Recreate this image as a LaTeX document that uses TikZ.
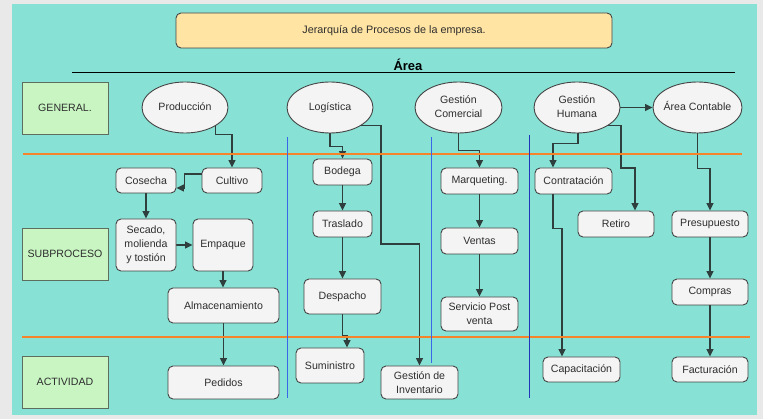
\documentclass[tikz,border=0pt]{standalone}
\usepackage{fontspec}
\setmainfont{Liberation Sans}
\usetikzlibrary{arrows.meta,shapes.geometric}

\definecolor{pagegray}{HTML}{E9E9E9}
\definecolor{canvas}{HTML}{87E2D5}
\definecolor{titlefill}{HTML}{FFE4A3}
\definecolor{lvlfill}{HTML}{C8F5C2}
\definecolor{lvlline}{HTML}{5E6E5E}
\definecolor{boxfill}{HTML}{F4F4F4}
\definecolor{boxline}{HTML}{444444}
\definecolor{txt}{HTML}{2E2E2E}
\definecolor{wire}{HTML}{2F3F3D}
\definecolor{bandline}{HTML}{F5832A}
\definecolor{colline}{HTML}{3A66E8}
\definecolor{colnavy}{HTML}{2335B8}

\newcommand\lblfont{\fontsize{10.6}{14}\selectfont}
% ellipse labels: zero-width box so the ellipse keeps its set size
\newcommand\ellab[1]{\makebox[0pt]{\begin{tabular}{@{}c@{}}#1\end{tabular}}}

\pgfdeclarelayer{bg}
\pgfdeclarelayer{wires}
\pgfsetlayers{bg,wires,main}

\begin{document}
\begin{tikzpicture}[x=1pt,y=-1pt,
  box/.style={draw=boxline, fill=boxfill, rounded corners=5pt, line width=0.9pt,
    font=\lblfont, text=txt, align=center, inner sep=0pt},
  area/.style={ellipse, draw=boxline, fill=boxfill, line width=0.9pt,
    font=\lblfont, text=txt, inner sep=0pt, minimum width=86pt, minimum height=51pt},
  level/.style={draw=lvlline, fill=lvlfill, line width=0.9pt, inner sep=0pt,
    minimum width=86pt, minimum height=52pt, font=\lblfont, text=txt},
  conn/.style={draw=wire, line width=1.1pt, -{Triangle[length=7.5pt,width=7pt]}},
  band/.style={draw=bandline, line width=2.6pt},
]
\useasboundingbox (0,0) rectangle (763,419);

% ---------- title and headings ----------
\node[draw=boxline, fill=titlefill, rounded corners=5pt, line width=0.9pt,
      minimum width=436pt, minimum height=35pt, inner sep=0pt, text=txt,
      font=\fontsize{10.8}{13}\selectfont] (title) at (394,30.5)
      {Jerarquía de Procesos de la empresa.};
\node[font=\fontsize{13}{15}\selectfont\bfseries, inner sep=0pt] (areahead) at (408,65) {Área};

% ---------- level labels ----------
\node[level] (lgen) at (65,108) {GENERAL.};
\node[level] (lsub) at (65,254) {SUBPROCESO};
\node[level] (lact) at (65,382) {ACTIVIDAD};

% ---------- areas ----------
\node[area] (prod) at (185,107.5) {\ellab{Producción}};
\node[area] (log)  at (330,107.5) {\ellab{Logística}};
\node[area, minimum width=87pt] (gc) at (458.5,107.5) {\ellab{Gestión\\Comercial}};
\node[area] (gh)   at (577,107.5) {\ellab{Gestión\\Humana}};
\node[area, minimum width=89pt] (ac) at (697.5,107.5) {\ellab{Área Contable}};

% ---------- Producción ----------
\node[box, minimum width=60pt, minimum height=25pt] (cult) at (232,180.5) {Cultivo};
\node[box, minimum width=60pt, minimum height=25pt] (cos)  at (146,180.5) {Cosecha};
\node[box, minimum width=60pt, minimum height=52pt] (sec)  at (146,245) {Secado,\\molienda\\y tostión};
\node[box, minimum width=60pt, minimum height=52pt] (emp)  at (223,245) {Empaque};
\node[box, minimum width=111pt, minimum height=35pt] (alm) at (223.5,305.5) {Almacenamiento};
\node[box, minimum width=111pt, minimum height=33pt] (ped) at (223.5,382.5) {Pedidos};

% ---------- Logística ----------
\node[box, minimum width=59pt, minimum height=26pt] (bod)  at (342.5,172) {Bodega};
\node[box, minimum width=59pt, minimum height=26pt] (tras) at (342.5,224) {Traslado};
\node[box, minimum width=77pt, minimum height=35pt] (desp) at (342.5,296.5) {Despacho};
\node[box, minimum width=68pt, minimum height=35pt] (sum)  at (330,365.5) {Suministro};
\node[box, minimum width=77pt, minimum height=33pt] (ginv) at (419.5,382.5) {Gestión de\\Inventario};

% ---------- Gestión Comercial ----------
\node[box, minimum width=77pt, minimum height=26pt] (mkt)  at (479.5,181) {Marqueting.};
\node[box, minimum width=77pt, minimum height=26pt] (ven)  at (479.5,241) {Ventas};
\node[box, minimum width=77pt, minimum height=34pt] (serv) at (479.5,314) {Servicio Post\\venta};

% ---------- Gestión Humana ----------
\node[box, minimum width=77pt, minimum height=26pt] (contr) at (573.5,181) {Contratación};
\node[box, minimum width=76pt, minimum height=26pt] (ret)   at (616,224) {Retiro};
\node[box, minimum width=77pt, minimum height=25pt] (cap)   at (581.5,369.5) {Capacitación};

% ---------- Área Contable ----------
\node[box, minimum width=76pt, minimum height=26pt] (pres) at (710,224) {Presupuesto};
\node[box, minimum width=76pt, minimum height=26pt] (comp) at (710,292) {Compras};
\node[box, minimum width=76pt, minimum height=25pt] (fact) at (710,369.5) {Facturación};

% bend points
\coordinate (lgbend) at (381,244);
\coordinate (ghbend) at (621,168);

\begin{pgfonlayer}{bg}
  \fill[pagegray] (0,0) rectangle (763,419);
  \fill[canvas] (12,4) rectangle (757,415);
\end{pgfonlayer}

\begin{pgfonlayer}{wires}
  % connectors
  \draw[conn] (prod.south east) -- ++(0,8.5) -| (cult.north);
  \draw[conn] ([yshift=6.5pt]cult.west) -- ++(-17,0) |- ([yshift=-7.5pt]cos.east);
  \draw[conn] (cos.south) -- (sec.north);
  \draw[conn] (sec.east) -- (emp.west);
  \draw[conn] (emp.south) -- (emp.south |- alm.north);
  \draw[conn] (alm.south) -- (ped.north);

  \draw[conn] (log.south) -- ++(0,13) -| (bod.north);
  \draw[conn] (log.south east) -| (lgbend) -| (ginv.north);
  \draw[conn] (bod.south) -- (tras.north);
  \draw[conn] (tras.south) -- (desp.north);
  \draw[conn] (desp.south) -- ++(0,21) -| ([xshift=17pt]sum.north);

  \draw[conn] (gc.south) -- ++(0,17) -| (mkt.north);
  \draw[conn] (mkt.south) -- (ven.north);
  \draw[conn] (ven.south) -- (serv.north);

  \draw[conn] (gh.east) -- (ac.west);
  \draw[conn] ([xshift=1pt]gh.south) -- ++(0,10) -| ([xshift=-20.5pt]contr.north);
  \draw[conn] ([xshift=-20.5pt]contr.south) -- ++(0,34) -| ([xshift=-19.5pt]cap.north);
  \draw[conn] (gh.south east) -| (ghbend) -| ([xshift=19pt]ret.north);

  \draw[conn] (ac.south) -- ++(0,35) -| (pres.north);
  \draw[conn] (pres.south) -- (comp.north);
  \draw[conn] (comp.south) -- (fact.north);

  % heading rule, level bands and column dividers
  \draw[line width=0.9pt, black] (72,72.7) -- (735,72.7);
  \draw[band] (23,154) -- (742,154);
  \draw[band] (22,337) -- (750,337);
  \draw[colline, line width=1pt] (287,137) -- (287,398);
  \draw[colline, line width=1pt] (431,137) -- (431,363);
  \draw[colnavy, line width=0.9pt] (529,135) -- (529,398);
\end{pgfonlayer}
\end{tikzpicture}
\end{document}
